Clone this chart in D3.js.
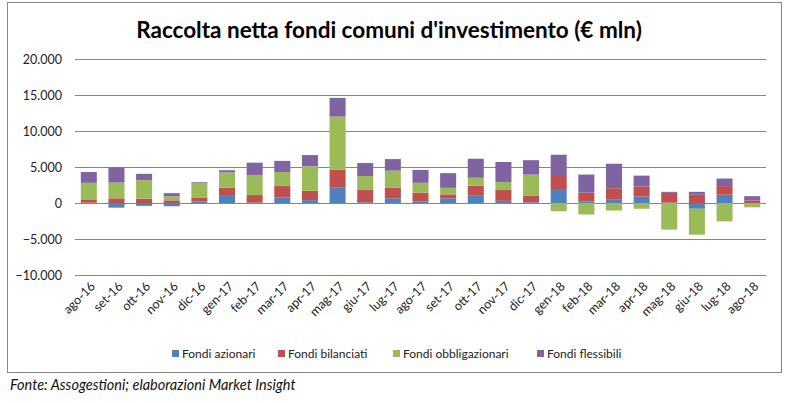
<html>
<head>
  <script src="https://d3js.org/d3.v7.min.js"></script>
  <style>
    body { margin: 0; background: white; }
    text { font-family: Lato, "Open Sans", sans-serif; }
    #title { font-size: 22.5px; font-weight: 700; fill: #000; }
    #footer { font-size: 14.5px; font-style: italic; fill: #111; }
  </style>
</head>
<body>
  <svg id="chart" width="790" height="403"></svg>
  <script>
    // months on the x axis
    const months = ["ago-16", "set-16", "ott-16", "nov-16", "dic-16", "gen-17", "feb-17", "mar-17",
      "apr-17", "mag-17", "giu-17", "lug-17", "ago-17", "set-17", "ott-17", "nov-17", "dic-17",
      "gen-18", "feb-18", "mar-18", "apr-18", "mag-18", "giu-18", "lug-18", "ago-18"];

    // net inflows, € mln
    const azionari = [50, -650, -400, -450, 200, 1100, 50, 750, 400, 2200, 100, 650, 200,
      650, 1000, 300, 100, 1950, 200, 450, 900, 50, -800, 1150, 0];
    const bilanciati = [450, 650, 600, 370, 500, 1050, 1050, 1600, 1300, 2400, 1700, 1500, 1250,
      550, 1400, 1500, 950, 1800, 1250, 1600, 1400, 1350, 1150, 1200, 350];
    const obbligazionari = [2300, 2200, 2600, 550, 2100, 2100, 2800, 1950, 3400, 7400, 1950, 2350, 1350,
      900, 1100, 1100, 2900, -1150, -1600, -1050, -800, -3700, -3600, -2550, -600];
    const flessibili = [1500, 2100, 850, 450, 100, 300, 1700, 1550, 1550, 2600, 1800, 1600, 1800,
      2050, 2650, 2800, 2000, 2950, 2500, 3400, 1500, 150, 400, 1050, 600];

    const seriesNames = ["Fondi azionari", "Fondi bilanciati", "Fondi obbligazionari", "Fondi flessibili"];
    const colors = ["#4F81BD", "#C0504D", "#9BBB59", "#8064A2"];
    const yTicks = [-10000, -5000, 0, 5000, 10000, 15000, 20000];

    const svg = d3.select("#chart");

    // outer frame like the spreadsheet chart area
    svg.append("rect")
      .attr("x", 7.5).attr("y", 2.5)
      .attr("width", 774).attr("height", 370)
      .attr("fill", "white")
      .attr("stroke", "#868686");

    svg.append("text")
      .attr("id", "title")
      .attr("x", 389)
      .attr("y", 38)
      .attr("text-anchor", "middle")
      .text("Raccolta netta fondi comuni d'investimento (€ mln)");

    const plot = { left: 75, right: 766, top: 59, bottom: 275 };

    const x = d3.scaleBand()
      .domain(months)
      .range([plot.left, plot.right])
      .paddingInner(0.42)
      .paddingOuter(0.21);

    const y = d3.scaleLinear()
      .domain([-10000, 20000])
      .range([plot.bottom, plot.top]);

    const it = d3.formatLocale({ decimal: ",", thousands: ".", grouping: [3], currency: ["€", ""] });
    const fmt = it.format(",");

    // gridlines + labels
    const yAxis = d3.axisLeft(y)
      .tickValues(yTicks)
      .tickSize(-(plot.right - plot.left))
      .tickPadding(13)
      .tickFormat(fmt);

    const gy = svg.append("g")
      .attr("transform", "translate(" + plot.left + ",0)")
      .call(yAxis);
    gy.select(".domain").remove();
    gy.selectAll(".tick line").attr("stroke", "#868686").attr("stroke-width", 1);
    gy.selectAll(".tick text").attr("font-size", 12.5).attr("fill", "#222").attr("font-family", "Lato, sans-serif");

    // build rows for the stack
    const rows = months.map((m, i) => ({
      month: m,
      "Fondi azionari": azionari[i],
      "Fondi bilanciati": bilanciati[i],
      "Fondi obbligazionari": obbligazionari[i],
      "Fondi flessibili": flessibili[i]
    }));

    const stacked = d3.stack()
      .keys(seriesNames)
      .offset(d3.stackOffsetDiverging)(rows);

    svg.append("g")
      .selectAll("g")
      .data(stacked)
      .enter()
      .append("g")
      .attr("fill", (d, i) => colors[i])
      .selectAll("rect")
      .data(d => d)
      .enter()
      .append("rect")
      .attr("x", d => x(d.data.month))
      .attr("width", x.bandwidth())
      .attr("y", d => y(Math.max(d[0], d[1])))
      .attr("height", d => Math.abs(y(d[0]) - y(d[1])));

    // x labels, rotated
    const xAxis = d3.axisBottom(x).tickSize(0).tickPadding(0);
    const gx = svg.append("g")
      .attr("transform", "translate(0," + (plot.bottom + 9) + ")")
      .call(xAxis);
    gx.select(".domain").remove();
    gx.selectAll(".tick text")
      .attr("font-size", 12.5)
      .attr("fill", "#222")
      .attr("font-family", "Lato, sans-serif")
      .attr("text-anchor", "end")
      .attr("dy", "0.35em")
      .attr("transform", "translate(4,0) rotate(-45)");

    // legend
    const legendX = [172, 278, 393, 537];
    const legend = svg.append("g").attr("transform", "translate(0,354)");
    const li = legend.selectAll("g")
      .data(seriesNames)
      .enter()
      .append("g")
      .attr("transform", (d, i) => "translate(" + legendX[i] + ",0)");
    li.append("rect")
      .attr("x", 0).attr("y", -4)
      .attr("width", 7).attr("height", 7)
      .attr("fill", (d, i) => colors[i]);
    li.append("text")
      .attr("x", 10)
      .attr("y", 0)
      .attr("dy", "0.35em")
      .attr("font-size", 12)
      .attr("fill", "#222")
      .text(d => d);

    svg.append("text")
      .attr("id", "footer")
      .attr("x", 10)
      .attr("y", 390)
      .text("Fonte: Assogestioni; elaborazioni Market Insight");
  </script>
</body>
</html>
